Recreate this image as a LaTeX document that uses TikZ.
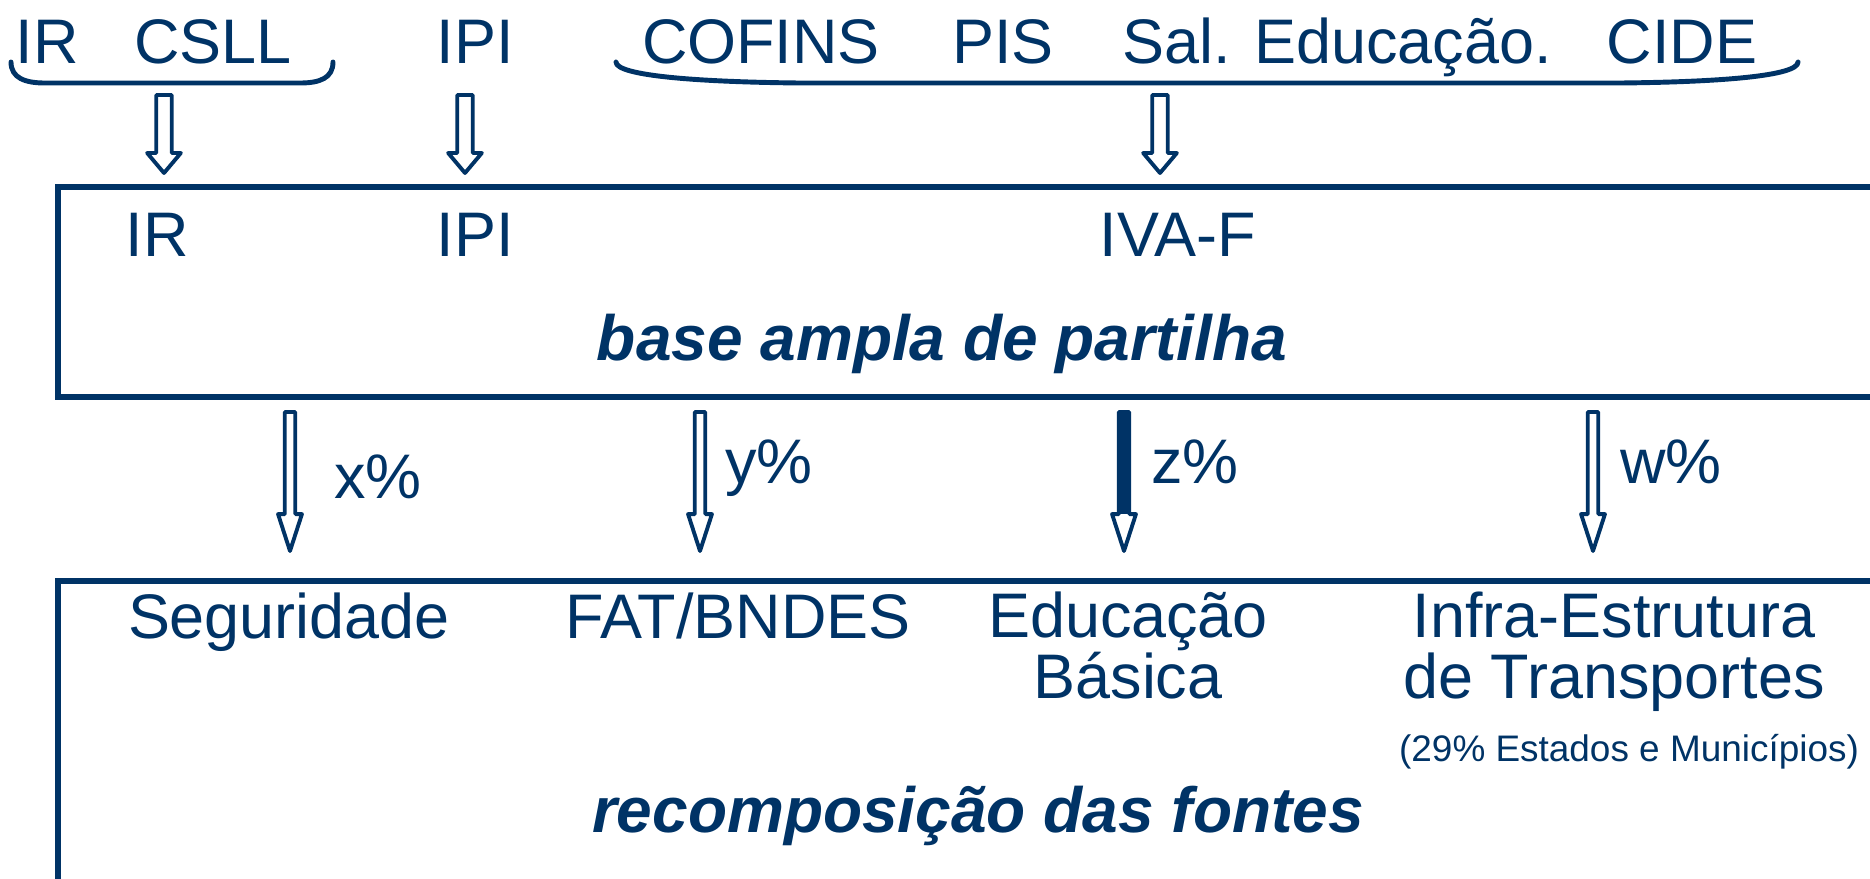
\documentclass[tikz,border=0pt]{standalone}
\usepackage{fontspec}
\setmainfont{Liberation Sans}
\usetikzlibrary{calc}
\definecolor{azulgov}{RGB}{0,51,102}
\tikzset{
  rotulo/.style={color=azulgov,font=\fontsize{17.9}{17.1}\selectfont,anchor=base,inner sep=0pt,align=center},
  titulo/.style={rotulo,font=\fontsize{18.2}{17.1}\selectfont\bfseries\itshape},
  nota/.style={rotulo,font=\fontsize{10.5}{12}\selectfont},
  caixa/.style={azulgov,line width=1.6pt},
  chave/.style={azulgov,line width=1.4pt,line cap=round},
  seta/.style={draw=azulgov,fill=white,line width=1.1pt,line join=round}
}
% hollow arrow: from, to, half shaft, half head, head length
\newcommand{\setaoca}[5]{%
  \draw[seta] let \p1=(#1), \p2=(#2) in
    (\x1-#3,\y1) -- (\x1+#3,\y1) -- (\x1+#3,\y2+#5) -- (\x1+#4,\y2+#5)
    -- (\x2,\y2) -- (\x1-#4,\y2+#5) -- (\x1-#3,\y2+#5) -- cycle;}
\begin{document}
\begin{tikzpicture}[x=0.01cm,y=-0.01cm]
			\useasboundingbox (0,0) rectangle (1870,878);
			\clip (0,0) rectangle (1870,878);
			
			% tributos atuais
			\node[rotulo] (ir) at (47,63) {IR};
			\node[rotulo] (csll) at (213,63) {CSLL};
			\node[rotulo] (ipi) at (475,63) {IPI};
			\node[rotulo] (cofins) at (761,63) {COFINS};
			\node[rotulo] (pis) at (1003,63) {PIS};
			\node[rotulo] (saleduc) at (1337,63) {Sal. Educação.};
			\node[rotulo] (cide) at (1682,63) {CIDE};
			\draw[chave] (11,62) .. controls (11,78) and (25,83) .. (45,83) -- (300,83) .. controls (320,83) and (333,78) .. (333,62);
			\draw[chave] (616,62) .. controls (616,76) and (700,82) .. (800,83) -- (1620,83) .. controls (1720,82) and (1798,76) .. (1798,62);
			
			% base ampla de partilha
			\draw[caixa] (58,187) rectangle (1900,397);
			\node[rotulo] (irnovo) at (157,256) {IR};
			\node[rotulo] (ipinovo) at (475,256) {IPI};
			\node[rotulo] (ivaf) at (1178,256) {IVA-F};
			\node[titulo] (partilha) at (942,360) {base ampla de partilha};
			
			\coordinate (irsrc) at (164,95);
			\coordinate (irdst) at (164,173);
			\coordinate (ipisrc) at (465,95);
			\coordinate (ipidst) at (465,173);
			\coordinate (ivasrc) at (1160,95);
			\coordinate (ivadst) at (1160,173);
			\setaoca{irsrc}{irdst}{2.2pt}{4.8pt}{5.7pt}
			\setaoca{ipisrc}{ipidst}{2.2pt}{4.8pt}{5.7pt}
			\setaoca{ivasrc}{ivadst}{2.2pt}{4.8pt}{5.7pt}
			
			% percentuais
			\coordinate (segsrc) at (290,412);
			\coordinate (segdst) at (290,551);
			\coordinate (fatsrc) at (700,412);
			\coordinate (fatdst) at (700,551);
			\coordinate (edusrc) at (1124,412);
			\coordinate (edudst) at (1124,551);
			\coordinate (infsrc) at (1593,412);
			\coordinate (infdst) at (1593,551);
			\setaoca{segsrc}{segdst}{1.5pt}{3.4pt}{10.5pt}
			\setaoca{fatsrc}{fatdst}{1.5pt}{3.4pt}{10.5pt}
			\setaoca{edusrc}{edudst}{1.5pt}{3.4pt}{10.5pt}
			\fill[azulgov] let \p1=(edusrc), \p2=(edudst) in (\x1-1.5pt,\y1) rectangle (\x1+1.5pt,\y2+10.5pt);
			\setaoca{infsrc}{infdst}{1.5pt}{3.4pt}{10.5pt}
			\node[rotulo] (px) at (378,498) {x\%};
			\node[rotulo] (py) at (769,483) {y\%};
			\node[rotulo] (pz) at (1195,483) {z\%};
			\node[rotulo] (pw) at (1671,483) {w\%};
			
			% recomposicao das fontes
			\draw[caixa] (58,581) rectangle (1900,950);
			\node[rotulo] (seguridade) at (289,638) {Seguridade};
			\node[rotulo] (fat) at (738,638) {FAT/BNDES};
			\node[rotulo] (educacao) at (1128,698) {Educação\\Básica};
			\node[rotulo] (infra) at (1614,698) {Infra-Estrutura\\de Transportes};
			\node[nota] (estados) at (1629,761) {(29\% Estados e Municípios)};
			\node[titulo] (recomp) at (978,832) {recomposição das fontes};
		\end{tikzpicture}
\end{document}
